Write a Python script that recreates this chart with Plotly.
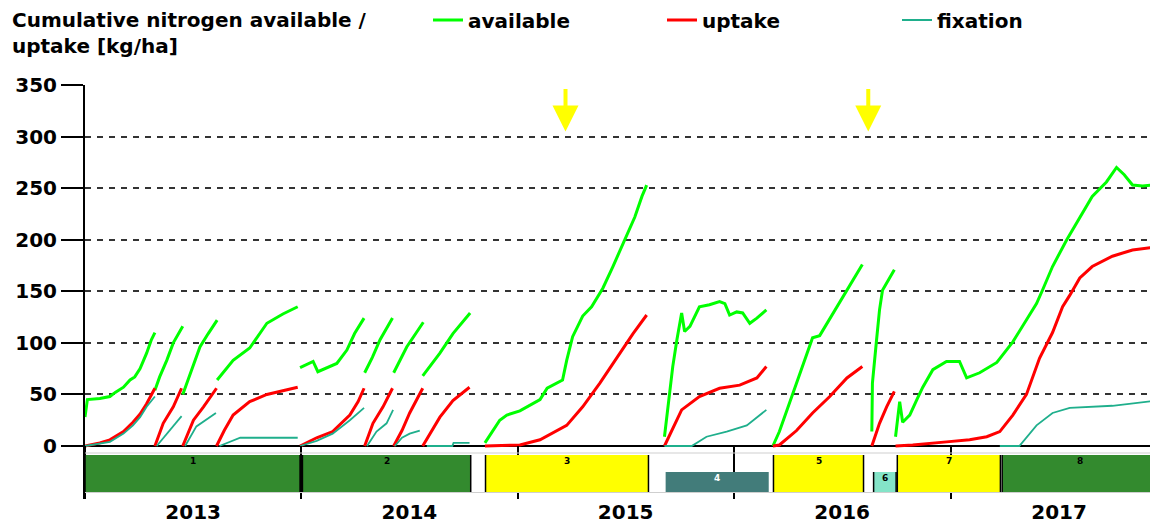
import pandas as pd
import plotly.graph_objects as go

START = pd.Timestamp("2013-01-01")
END_DAY = 1811

# ---- data: days since 2013-01-01 and cumulative N [kg/ha]; None separates crops
AVAIL_DAY = [0, 4, 25, 42, 51, 65, 76, 84, 93, 104, 112, 118, None,
             118, 126, 138, 149, 165, None,
             165, 177, 194, 208, 223, None,
             223, 250, 278, 307, 334, 359, None,
             363, 385, 393, 408, 425, 442, 455, 471, None,
             472, 485, 498, 519, None,
             521, 543, 571, None,
             570, 599, 621, 650, None,
             675, 700, 712, 734, 768, 780, 806, 813, 823, 840, 855, 874, 891, 911, 928, 940, 948, None,
             978, 987, 992, 999, 1007, 1012, 1021, 1037, 1054, 1071, 1080, 1088, 1100, 1110, 1122, 1134, 1150, None,
             1161, 1172, 1201, 1228, 1240, 1269, 1291, 1312, None,
             1328, 1329, 1336, 1341, 1346, 1366, None,
             1368, 1375, 1380, 1392, 1404, 1414, 1431, 1454, 1476, 1488, 1510, 1539, 1566, 1594, 1606,
             1616, 1633, 1657, 1679, 1700, 1724, 1741, 1754, 1768, 1785, 1802, 1810]
AVAIL_N = [28, 45, 46, 48, 52, 57, 64, 67, 75, 90, 103, 110, None,
           54, 67, 83, 100, 116, None,
           50, 69, 96, 109, 122, None,
           64, 83, 95, 119, 128, 135, None,
           76, 82, 72, 76, 80, 93, 109, 124, None,
           71, 86, 103, 124, None,
           71, 96, 120, None,
           68, 90, 109, 129, None,
           3, 25, 30, 34, 45, 56, 64, 83, 106, 126, 135, 153, 174, 200, 222, 242, 253, None,
           9, 51, 77, 103, 129, 111, 116, 135, 137, 140, 138, 127, 130, 129, 119, 124, 132, None,
           0, 14, 61, 105, 107, 135, 155, 176, None,
           14, 61, 103, 132, 151, 171, None,
           9, 43, 23, 30, 45, 57, 74, 82, 82, 66, 71, 81, 101, 126, 138,
           151, 174, 200, 222, 242, 256, 270, 263, 253, 252, 253, 250]

UPTAKE_DAY = [0, 25, 42, 65, 81, 93, 104, 112, 118, None,
              118, 132, 149, 163, None,
              165, 183, 200, 222, None,
              222, 235, 250, 278, 307, 334, 359, None,
              363, 391, 418, 447, 461, 471, None,
              472, 486, 503, 519, None,
              521, 535, 548, 570, None,
              570, 585, 599, 621, 649, None,
              675, 734, 768, 813, 840, 869, 897, 925, 948, None,
              978, 992, 1007, 1037, 1071, 1105, 1134, 1150, None,
              1161, 1172, 1201, 1228, 1257, 1286, 1312, None,
              1328, 1341, 1353, 1366, None,
              1368, 1397, 1454, 1493, 1522, 1544, 1566, 1589, 1611, 1633, 1650, 1662, 1679, 1700, 1734, 1768, 1810]
UPTAKE_N = [0, 3, 6, 14, 23, 31, 41, 50, 56, None,
            0, 22, 38, 56, None,
            0, 25, 38, 56, None,
            0, 15, 30, 43, 50, 54, 57, None,
            0, 8, 14, 30, 43, 56, None,
            0, 22, 38, 56, None,
            0, 15, 32, 56, None,
            0, 14, 28, 44, 57, None,
            0, 1, 6, 20, 38, 61, 85, 109, 127, None,
            0, 17, 35, 48, 56, 59, 66, 77, None,
            0, 1, 15, 32, 48, 66, 77, None,
            0, 22, 38, 53, None,
            0, 1, 4, 6, 9, 14, 30, 50, 85, 110, 135, 146, 163, 174, 184, 190, 193]

FIX_DAY = [0, 25, 42, 65, 81, 93, 104, 118, None,
           121, 138, 163, None,
           169, 188, 221, None,
           227, 262, 359, None,
           363, 391, 418, 447, 471, None,
           476, 492, 509, 520, None,
           523, 535, 548, 565, None,
           577, 620, 622, 649, None,
           978, 1024, 1049, 1083, 1117, 1150, None,
           1544, 1577, 1606, 1633, 1662, 1734, 1810]
FIX_N = [0, 2, 4, 12, 20, 28, 38, 48, None,
         0, 12, 29, None,
         0, 19, 32, None,
         0, 8, 8, None,
         0, 5, 12, 25, 37, None,
         0, 14, 22, 35, None,
         0, 8, 12, 15, None,
         0, 0, 3, 3, None,
         0, 0, 9, 14, 20, 35, None,
         0, 0, 20, 32, 37, 39, 44]

# crops in the rotation
CROP_ID = ["1", "2", "3", "4", "5", "6", "7", "8"]
CROP_START = [0, 367, 676, 980, 1162, 1331, 1371, 1548]
CROP_END = [363, 651, 951, 1154, 1314, 1369, 1545, 1811]
CROP_TYPE = ["grass", "grass", "cereal", "catch", "cereal", "legume", "cereal", "grass"]

# management events (arrows)
EVENT_DAY = [811, 1322]
EVENT_N = [305, 305]

Y_TICKS = [0, 50, 100, 150, 200, 250, 300, 350]

# ---- styles
CROP_STYLE = {
    "grass": dict(color="#338a2e", tall=True, text="#000000"),
    "cereal": dict(color="#ffff00", tall=True, text="#000000"),
    "catch": dict(color="#427c7a", tall=False, text="#ffffff"),
    "legume": dict(color="#84e4c8", tall=False, text="#000000"),
}
FONT = "DejaVu Sans"

# the page body has an 8px margin: figure covers window pixels 8..1158 / 8..528
PAGE = 8
W, H = 1158 - PAGE, 528 - PAGE
PLOT_TOP, PLOT_BOT = 85, 499  # window pixels


def to_dates(days):
    return [None if d is None else START + pd.Timedelta(days=d) for d in days]


def py(px):
    return (PLOT_BOT - px) / (PLOT_BOT - PLOT_TOP)


fig = go.Figure()
fig.add_trace(go.Scatter(x=to_dates(AVAIL_DAY), y=AVAIL_N, mode="lines", name="available",
                         line=dict(color="#00ff00", width=3), legend="legend", showlegend=True))
fig.add_trace(go.Scatter(x=to_dates(UPTAKE_DAY), y=UPTAKE_N, mode="lines", name="uptake",
                         line=dict(color="#ff0000", width=3), legend="legend2", showlegend=True))
fig.add_trace(go.Scatter(x=to_dates(FIX_DAY), y=FIX_N, mode="lines", name="fixation",
                         line=dict(color="#1faf8c", width=1.8), legend="legend3", showlegend=True))

shapes = []
for yl in (453, 492.5):
    shapes.append(dict(type="line", xref="paper", yref="paper", x0=0, x1=1, y0=py(yl), y1=py(yl),
                       line=dict(color="#cfcfcf", width=1), layer="above"))
annotations = []
for cid, s, e, t in zip(CROP_ID, CROP_START, CROP_END, CROP_TYPE):
    st = CROP_STYLE[t]
    top = py(455) if st["tall"] else py(472)
    bot = py(492)
    x0, x1 = START + pd.Timedelta(days=s), START + pd.Timedelta(days=e)
    shapes.append(dict(type="rect", xref="x", yref="paper", x0=x0, x1=x1, y0=bot, y1=top,
                       fillcolor=st["color"], line=dict(width=0), layer="above"))
    if t != "catch":
        for xe in (x0, x1):
            shapes.append(dict(type="line", xref="x", yref="paper", x0=xe, x1=xe, y0=bot, y1=top,
                               line=dict(color="#000000", width=1.5), layer="above"))
    annotations.append(dict(x=START + pd.Timedelta(days=(s + e) / 2), y=top, xref="x", yref="paper",
                            text=f"<b>{cid}</b>", showarrow=False, yanchor="top", yshift=1,
                            font=dict(size=9, color=st["text"], family=FONT)))

for d, n in zip(EVENT_DAY, EVENT_N):
    annotations.append(dict(x=START + pd.Timedelta(days=d), y=n, xref="x", yref="y", text="",
                            showarrow=True, ax=0, ay=-44, arrowhead=2, arrowsize=1.3,
                            arrowwidth=4, arrowcolor="#ffff00"))

legend_common = dict(orientation="h", xref="container", yref="container", yanchor="middle",
                     xanchor="left", y=1 - (20 - PAGE) / H, bgcolor="rgba(0,0,0,0)", borderwidth=0,
                     visible=True,
                     font=dict(family=FONT, size=20, color="#000000", weight="bold"))

fig.update_layout(
    width=W, height=H,
    margin=dict(l=PLOT_TOP - PAGE, r=0, t=PLOT_TOP - PAGE, b=528 - PLOT_BOT, autoexpand=False),
    paper_bgcolor="#ffffff", plot_bgcolor="#ffffff",
    font=dict(family=FONT, size=20, color="#000000", weight="bold"),
    title=dict(text="Cumulative nitrogen available /<br>uptake [kg/ha]", xref="container",
               x=(12 - PAGE) / W, xanchor="left", yref="container", y=1 - 19 / H, yanchor="top",
               font=dict(family=FONT, size=20, color="#000000", weight="bold")),
    showlegend=True,
    legend=dict(legend_common, x=(428 - PAGE) / W),
    legend2=dict(legend_common, x=(662 - PAGE) / W),
    legend3=dict(legend_common, x=(897 - PAGE) / W),
    shapes=shapes, annotations=annotations,
    xaxis=dict(type="date", range=[START, START + pd.Timedelta(days=END_DAY)],
               tick0="2013-01-01", dtick="M12", tickformat="%Y", ticklabelmode="period",
               ticks="inside", ticklen=53, tickwidth=2, tickcolor="#000000", ticklabelstandoff=-1,
               showgrid=False, showline=False, zeroline=False, automargin=False,
               tickfont=dict(family=FONT, size=20, color="#000000", weight="bold")),
    yaxis=dict(range=[-(PLOT_BOT - 446) / ((446 - PLOT_TOP) / 350), 350], tickvals=Y_TICKS,
               ticks="outside", ticklen=22, tickwidth=2, tickcolor="#000000",
               showline=True, linecolor="#000000", linewidth=2, automargin=False,
               showgrid=True, gridcolor="#333333", gridwidth=2, griddash="6px,6px",
               zeroline=True, zerolinecolor="#000000", zerolinewidth=2,
               tickfont=dict(family=FONT, size=20, color="#000000", weight="bold")),
)

fig.write_html("out.html")
